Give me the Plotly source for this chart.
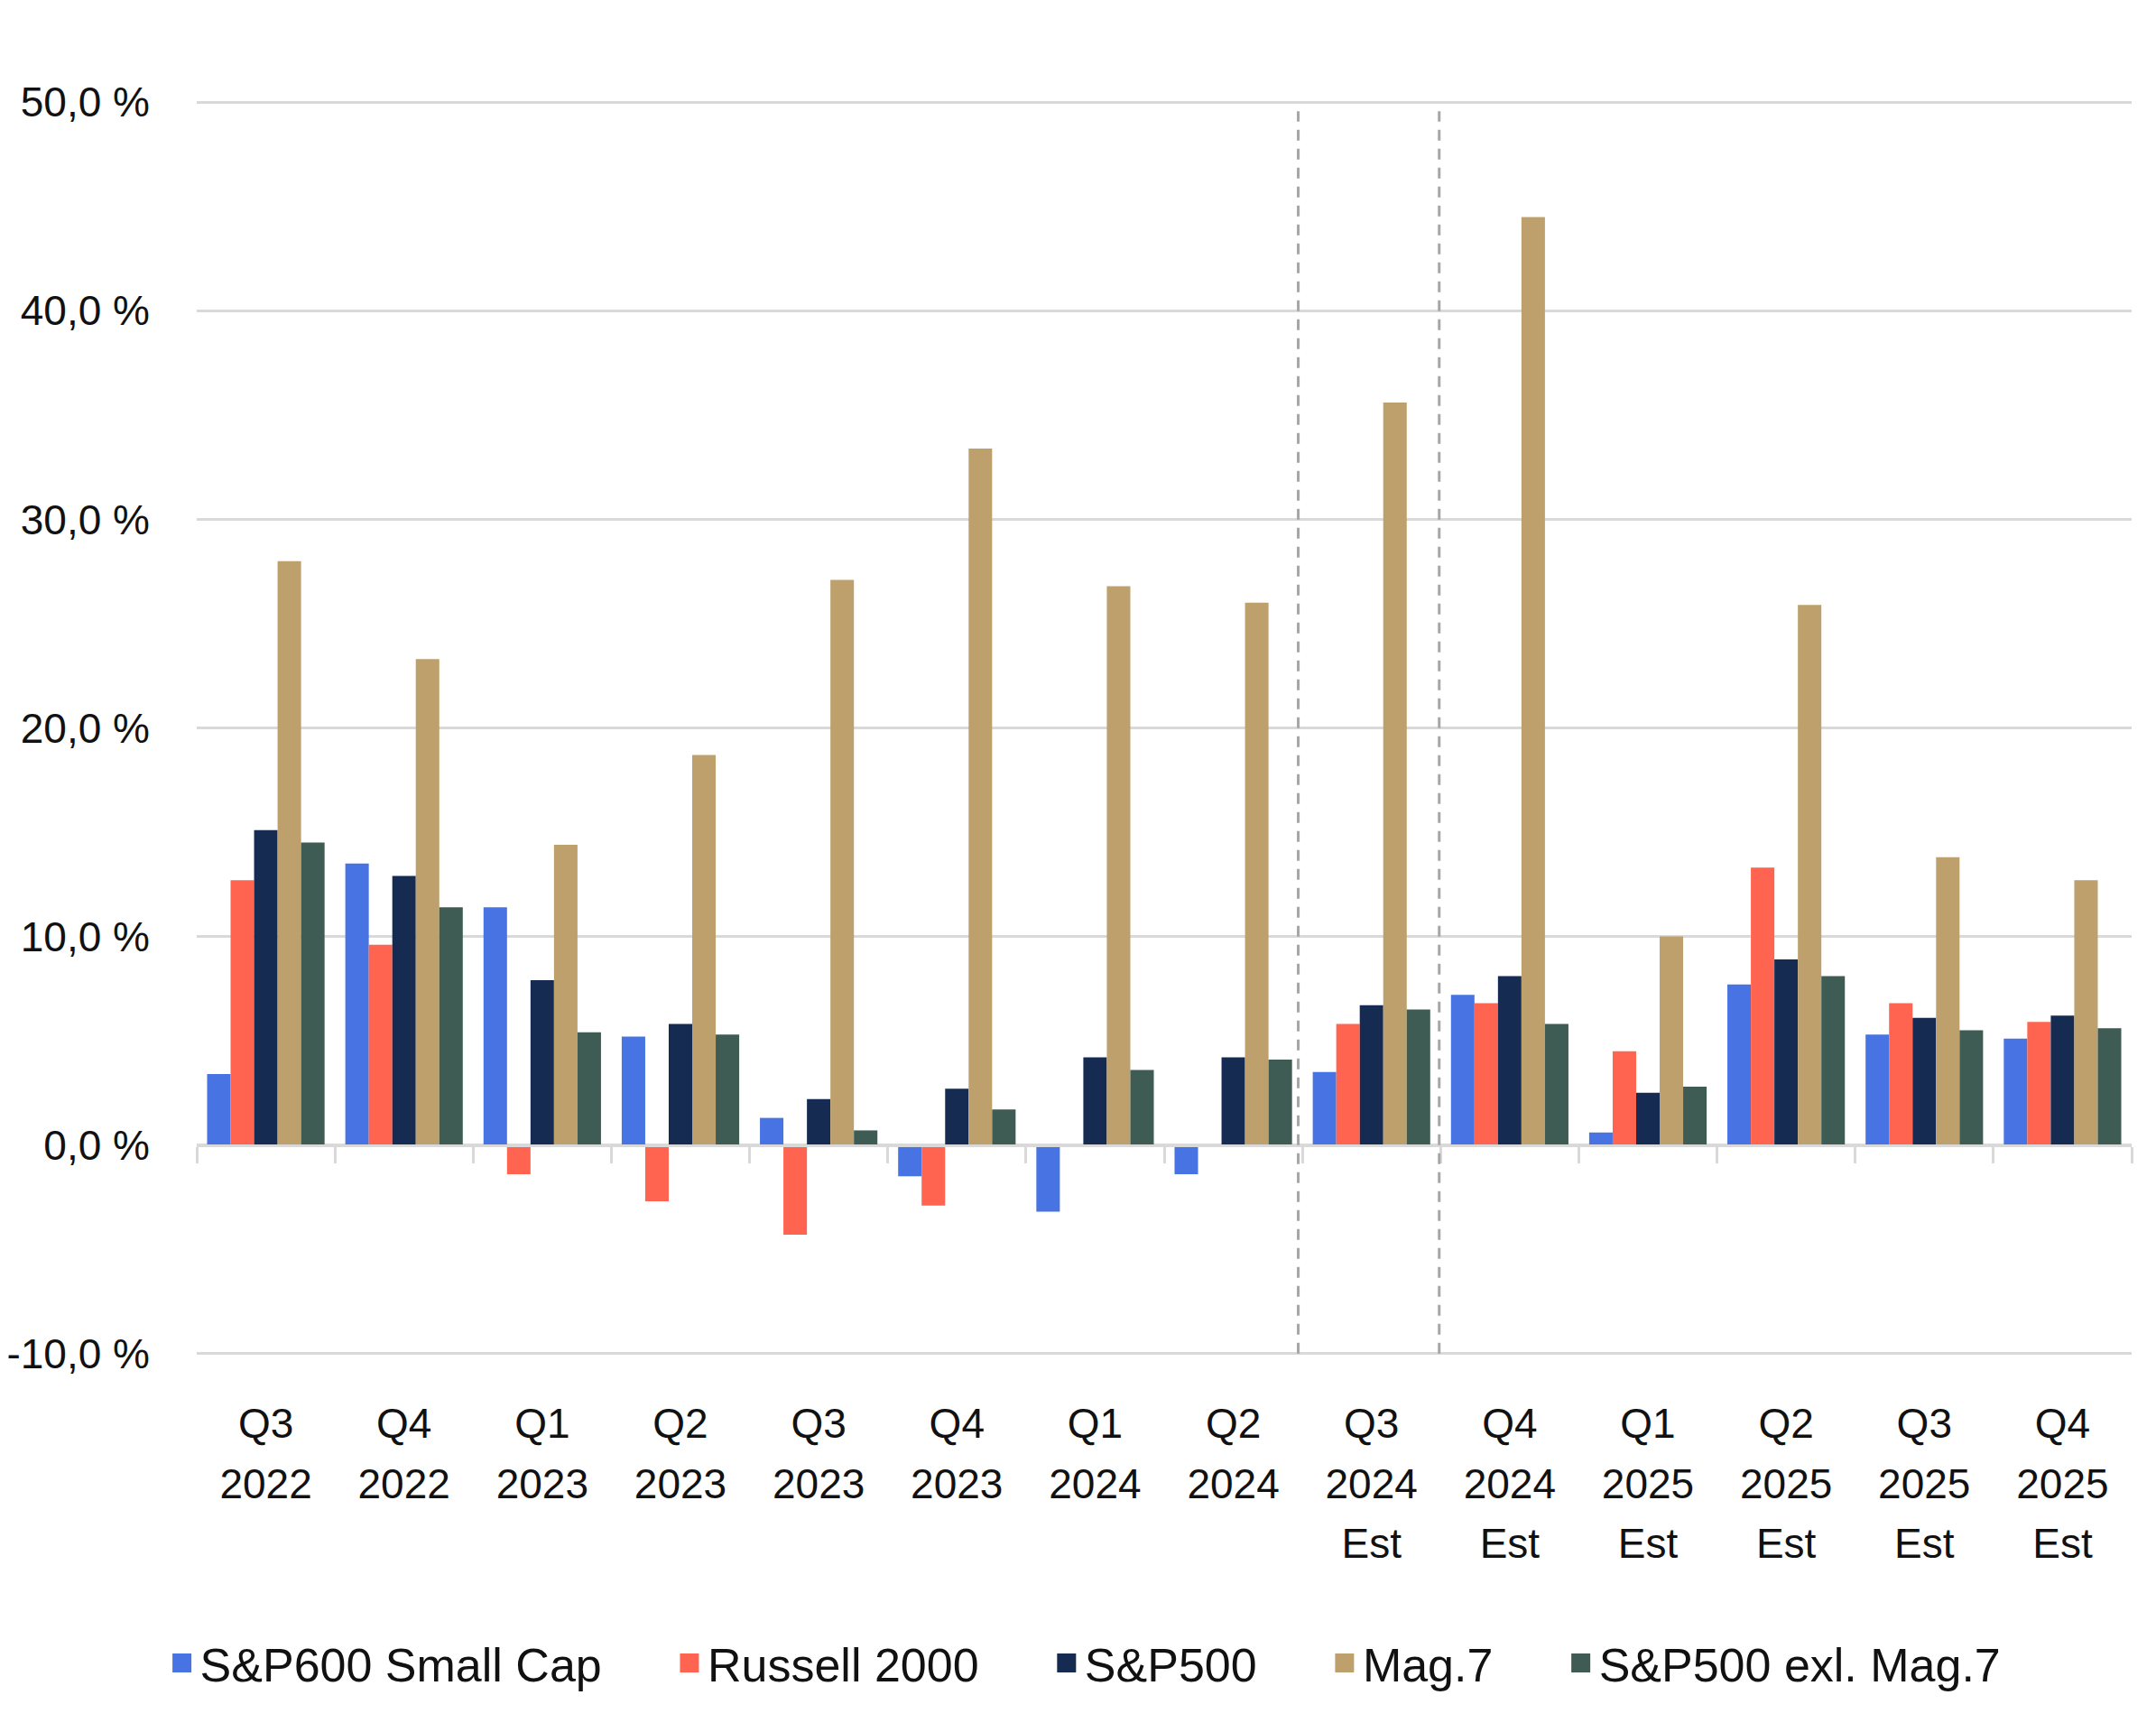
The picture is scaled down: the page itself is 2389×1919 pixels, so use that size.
import plotly.graph_objects as go

# ---------------- data ----------------
quarter_labels = ["Q3", "Q4", "Q1", "Q2", "Q3", "Q4", "Q1", "Q2", "Q3", "Q4", "Q1", "Q2", "Q3", "Q4"]
year_labels = ["2022", "2022", "2023", "2023", "2023", "2023", "2024", "2024",
               "2024", "2024", "2025", "2025", "2025", "2025"]
est_labels = ["", "", "", "", "", "", "", "", "Est", "Est", "Est", "Est", "Est", "Est"]

sp600_small_cap = [3.4, 13.5, 11.4, 5.2, 1.3, -1.5, -3.2, -1.4, 3.5, 7.2, 0.6, 7.7, 5.3, 5.1]
russell_2000 = [12.7, 9.6, -1.4, -2.7, -4.3, -2.9, None, None, 5.8, 6.8, 4.5, 13.3, 6.8, 5.9]
sp500 = [15.1, 12.9, 7.9, 5.8, 2.2, 2.7, 4.2, 4.2, 6.7, 8.1, 2.5, 8.9, 6.1, 6.2]
mag7 = [28.0, 23.3, 14.4, 18.7, 27.1, 33.4, 26.8, 26.0, 35.6, 44.5, 10.0, 25.9, 13.8, 12.7]
sp500_ex_mag7 = [14.5, 11.4, 5.4, 5.3, 0.7, 1.7, 3.6, 4.1, 6.5, 5.8, 2.8, 8.1, 5.5, 5.6]

series_names = ["S&P600 Small Cap", "Russell 2000", "S&P500", "Mag.7", "S&P500 exl. Mag.7"]
series_values = [sp600_small_cap, russell_2000, sp500, mag7, sp500_ex_mag7]
series_colors = ["#4873E3", "#FF6450", "#162B52", "#BDA06C", "#3E5C54"]

y_tick_vals = [-10, 0, 10, 20, 30, 40, 50]
y_tick_labels = ["-10,0 %", "0,0 %", "10,0 %", "20,0 %", "30,0 %", "40,0 %", "50,0 %"]

# separators between "actual" and "estimate" periods (category positions)
divider_positions = [7.47, 8.49]

# category keys built from the label lists
categories = [" ".join(p for p in (q, y, e) if p) for q, y, e in zip(quarter_labels, year_labels, est_labels)]

# ---------------- figure ----------------
FONT = "Liberation Sans, Arial, sans-serif"
GRID = "#d9d9d9"
TXT = "#111111"
y_lo, y_hi = y_tick_vals[0] - 0.1, y_tick_vals[-1] + 0.1
x_range = [-0.5, len(categories) - 0.5]

fig = go.Figure()

for name, vals, col in zip(series_names, series_values, series_colors):
    fig.add_trace(go.Bar(
        x=categories, y=vals, name=name, marker=dict(color=col, line=dict(width=0)),
        showlegend=False, legendgroup=name,
    ))

# legend entries (larger square swatches); padding after each entry widens spacing
for i, (name, col) in enumerate(zip(series_names, series_colors)):
    pad = "\u00a0" * 5 if i < len(series_names) - 1 else ""
    fig.add_trace(go.Scatter(
        x=[None], y=[None], mode="markers", name=name + pad, legendgroup=name,
        marker=dict(symbol="square", size=16, color=col, line=dict(color=col, width=5)),
        showlegend=True, hoverinfo="skip",
    ))

# helper traces for the extra category axes
for ax in ("x2", "x3", "x4"):
    fig.add_trace(go.Scatter(
        x=categories, y=[None] * len(categories), xaxis=ax, mode="lines",
        showlegend=False, hoverinfo="skip",
    ))

for xp in divider_positions:
    fig.add_shape(type="line", xref="x", yref="y", x0=xp, x1=xp, y0=y_tick_vals[0], y1=49.57,
                  line=dict(color="#a6a6a6", width=3, dash="12px,9px"), layer="above")

label_axis_common = dict(
    type="category", categoryorder="array", categoryarray=categories, range=x_range,
    showgrid=False, showline=False, zeroline=False, ticks="", automargin=False,
    tickfont=dict(family=FONT, size=46, color=TXT), tickvals=categories,
)

fig.update_layout(
    width=2389, height=1919,
    margin=dict(l=218, r=27, t=111, b=417),
    paper_bgcolor="white", plot_bgcolor="white",
    font=dict(family=FONT, size=46, color=TXT),
    barmode="group", bargap=0.15, bargroupgap=0.0,
    xaxis=dict(**label_axis_common, ticktext=quarter_labels, ticklabelstandoff=44),
    xaxis3=dict(**label_axis_common, ticktext=year_labels, ticklabelstandoff=111,
                overlaying="x", anchor="y", side="bottom"),
    xaxis4=dict(**label_axis_common, ticktext=est_labels, ticklabelstandoff=177,
                overlaying="x", anchor="y", side="bottom"),
    xaxis2=dict(
        type="category", categoryorder="array", categoryarray=categories, range=x_range,
        overlaying="x", anchor="free", position=(0 - y_lo) / (y_hi - y_lo),
        side="bottom", showgrid=False, zeroline=False, automargin=False,
        showline=True, linecolor=GRID, linewidth=3,
        ticks="outside", tickson="boundaries", ticklen=18, tickwidth=2.5, tickcolor=GRID,
        showticklabels=False,
    ),
    yaxis=dict(
        range=[y_lo, y_hi], tickvals=y_tick_vals, ticktext=y_tick_labels,
        showgrid=True, gridcolor=GRID, gridwidth=2.5, zeroline=False, showline=False,
        ticks="", ticklabelstandoff=51, automargin=False,
        tickfont=dict(family=FONT, size=46, color=TXT),
    ),
    legend=dict(
        orientation="h", x=0.459, xanchor="center", y=-0.245, yanchor="middle",
        font=dict(family=FONT, size=52, color=TXT),
        itemsizing="trace", bgcolor="rgba(0,0,0,0)",
    ),
)

fig.write_html("out.html", config={"displayModeBar": False},
               post_script="document.body.style.margin='0px';")
